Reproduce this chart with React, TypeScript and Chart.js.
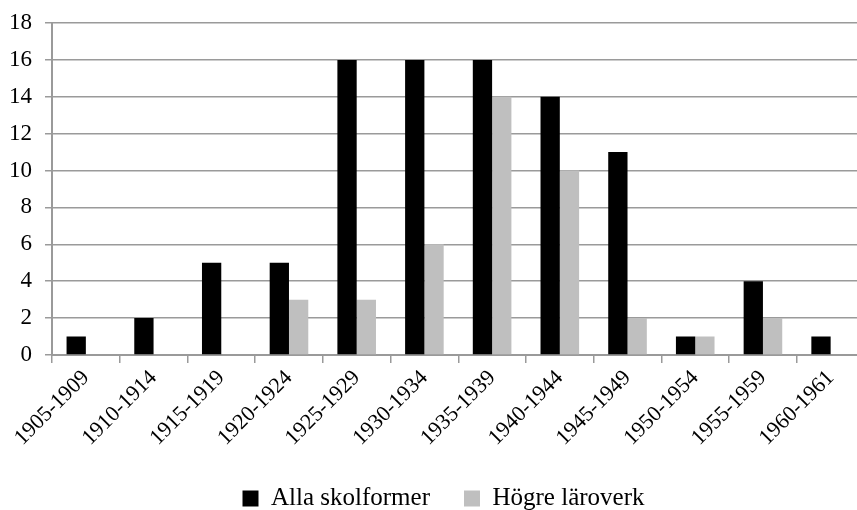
import React, { useEffect, useRef } from "react";
import { Chart, registerables } from "chart.js";

Chart.register(...registerables);

const categories = [
  "1905-1909", "1910-1914", "1915-1919", "1920-1924", "1925-1929", "1930-1934",
  "1935-1939", "1940-1944", "1945-1949", "1950-1954", "1955-1959", "1960-1961",
];
const allaSkolformer = [1, 2, 5, 5, 16, 16, 16, 14, 11, 1, 4, 1];
const hogreLaroverk = [0, 0, 0, 3, 3, 6, 14, 10, 2, 1, 2, 0];
const seriesNames = ["Alla skolformer", "Högre läroverk"];
const yTicks = { min: 0, max: 18, step: 2 };

const FONT = "'Liberation Serif', 'Times New Roman', serif";
const CANVAS_W = 878;
const CANVAS_H = 521;

export default function App() {
  const ref = useRef<HTMLCanvasElement | null>(null);
  useEffect(() => {
    if (!ref.current) return;
    const chart = new Chart(ref.current, {
      type: "bar",
      data: {
        labels: categories,
        datasets: [
          {
            label: seriesNames[0],
            data: allaSkolformer,
            backgroundColor: "#000000",
            borderWidth: 0,
            barPercentage: 1,
            categoryPercentage: 0.57,
          },
          {
            label: seriesNames[1],
            data: hogreLaroverk,
            backgroundColor: "#bfbfbf",
            borderWidth: 0,
            barPercentage: 1,
            categoryPercentage: 0.57,
          },
        ],
      },
      options: {
        animation: false,
        responsive: false,
        maintainAspectRatio: false,
        layout: { padding: { left: 9, top: 23, right: 0, bottom: 0 } },
        plugins: {
          tooltip: { enabled: false },
          legend: {
            position: "bottom",
            labels: {
              boxWidth: 16,
              boxHeight: 16,
              padding: 34,
              color: "#000",
              font: { family: FONT, size: 25 },
            },
          },
        },
        scales: {
          x: {
            afterFit: (scale: any) => {
              scale.height = 97;
              scale.paddingLeft = 0;
              scale.paddingRight = 13.5;
            },
            grid: {
              drawOnChartArea: false,
              drawTicks: true,
              tickLength: 8,
              color: "#9a9a9a",
              lineWidth: 1.5,
              offset: true,
            },
            border: { color: "#9a9a9a", width: 2 },
            ticks: {
              color: "#000",
              minRotation: 45,
              maxRotation: 45,
              autoSkip: false,
              padding: 2,
              font: { family: FONT, size: 22 },
            },
          },
          y: {
            min: yTicks.min,
            max: yTicks.max,
            afterFit: (scale: any) => {
              scale.paddingTop = 0;
              scale.width = 43;
            },
            grid: {
              color: "#9a9a9a",
              lineWidth: 1.5,
              tickLength: 7,
            },
            border: { color: "#9a9a9a", width: 2 },
            ticks: {
              stepSize: yTicks.step,
              color: "#000",
              padding: 13,
              font: { family: FONT, size: 23 },
            },
          },
        },
      },
    });
    return () => chart.destroy();
  }, []);
  return (
    <div style={{ position: "absolute", left: 0, top: 0, width: 857, height: 510, overflow: "hidden", background: "#fff" }}>
      <canvas ref={ref} width={CANVAS_W} height={CANVAS_H} style={{ display: "block", width: CANVAS_W, height: CANVAS_H }} />
    </div>
  );
}
